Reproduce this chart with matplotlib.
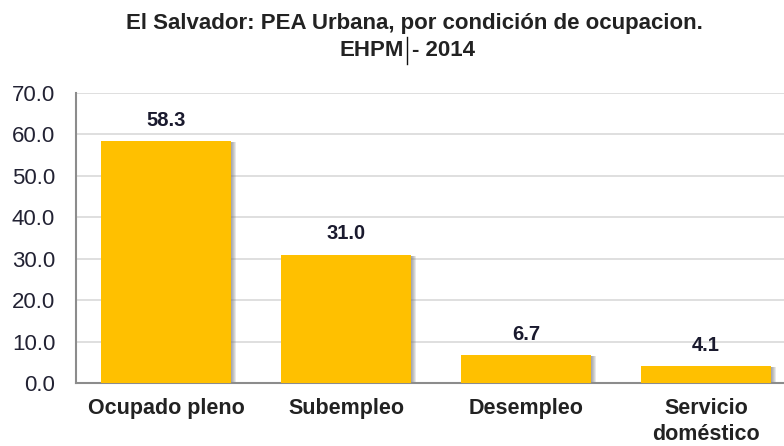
import matplotlib
matplotlib.use('Agg')
import matplotlib.pyplot as plt
import matplotlib.transforms as mtransforms
from matplotlib.lines import Line2D

categorias = ['Ocupado pleno', 'Subempleo', 'Desempleo', 'Servicio\ndoméstico']
valores = [58.3, 31.0, 6.7, 4.1]
ticks_y = [0, 10, 20, 30, 40, 50, 60, 70]

plt.rcParams['font.family'] = ['Liberation Sans', 'DejaVu Sans']

fig = plt.figure(figsize=(7.84, 4.46), dpi=100)
# plot area runs past the right edge like in the original screenshot
ax = fig.add_axes([76 / 784, 63 / 446, 720 / 784, 290 / 446])

x = list(range(len(categorias)))

# soft shadow to the right of each bar
for i in range(1, 6):
    sh = mtransforms.offset_copy(ax.transData, fig=fig, x=i * 1.0, y=-1.0, units='dots')
    ax.bar(x, valores, width=0.72, color='#707070', alpha=0.16, transform=sh, zorder=2)

ax.bar(x, valores, width=0.72, color='#FFC000', zorder=3)

for xi, v in zip(x, valores):
    ax.annotate(f'{v:.1f}', (xi, v), xytext=(0, 15), textcoords='offset points',
                ha='center', va='center', fontsize=14.5, fontweight='bold', color='#1a1a2e')

ax.set_xlim(-0.5, 3.5)
ax.set_ylim(0, 70)
ax.set_yticks(ticks_y)
ax.set_yticklabels([f'{t:.1f}' for t in ticks_y], fontsize=16, color='#222233')
ax.set_xticks(x)
ax.set_xticklabels(categorias, fontsize=15.5, fontweight='bold', color='#222222', linespacing=1.3)
ax.tick_params(axis='y', length=0, pad=15)
ax.tick_params(axis='x', length=0, pad=11)
for lab in ax.get_xticklabels():
    lab.set_verticalalignment('top')

ax.yaxis.grid(True, color='#d9d9d9', linewidth=1.2, zorder=0)
ax.set_axisbelow(True)
ax.spines['top'].set_visible(False)
ax.spines['right'].set_visible(False)
ax.spines['left'].set_color('#8c8c8c')
ax.spines['left'].set_linewidth(1.5)
ax.spines['bottom'].set_color('#8c8c8c')
ax.spines['bottom'].set_linewidth(1.5)

fig.text(414 / 784, 1 - 24 / 446, 'El Salvador: PEA Urbana, por condición de ocupacion.',
         ha='center', va='center', fontsize=16, fontweight='bold', color='#222222')
# second title line, with the thin text cursor after "EHPM"
fig.text(404 / 784, 1 - 50 / 446, 'EHPM', ha='right', va='center',
         fontsize=16, fontweight='bold', color='#222222')
fig.text(412 / 784, 1 - 50 / 446, '- 2014', ha='left', va='center',
         fontsize=16, fontweight='bold', color='#222222')
fig.add_artist(Line2D([407 / 784, 407 / 784], [1 - 37 / 446, 1 - 64 / 446],
                      color='#111111', linewidth=1.0, transform=fig.transFigure))

fig.savefig('out.png', dpi=100)
